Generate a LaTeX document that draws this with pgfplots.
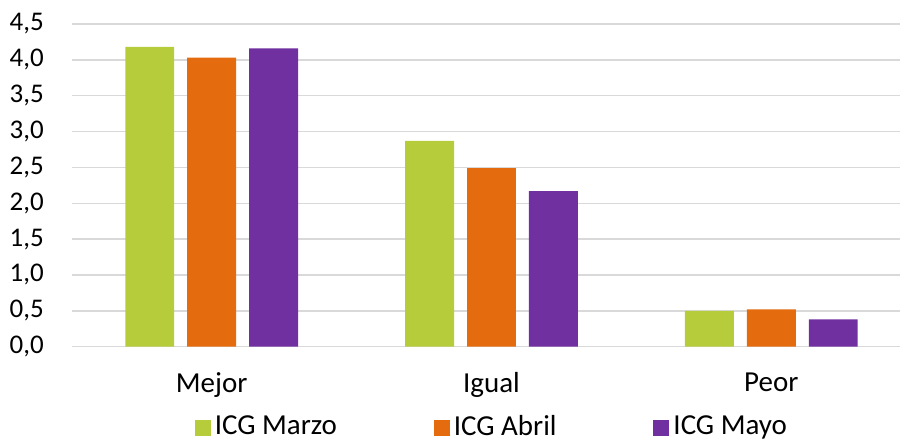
\documentclass[border=0pt]{standalone}
\usepackage{pgfplots}
\pgfplotsset{compat=1.18}
\usepackage{fontspec}
\setmainfont{Carlito}

\definecolor{verde}{HTML}{B6CC3A}
\definecolor{naranja}{HTML}{E46C0F}
\definecolor{morado}{HTML}{7030A0}
\definecolor{rejilla}{HTML}{D9D9D9}

\begin{document}
\begin{tikzpicture}
\fontsize{14.5}{17}\selectfont
\begin{axis}[
    name=ax,
    scale only axis,
    width=414.5pt, height=161.5pt,
    ybar=6.5pt, bar width=24.5pt,
    xmin=-0.5, xmax=2.46,
    ymin=0, ymax=4.5,
    xtick={0,1,2},
    xticklabels={Mejor,Igual,Peor},
    ytick={0,0.5,...,4.5},
    ymajorgrids,
    grid style={rejilla, line width=0.75pt},
    axis line style={draw=none},
    major tick length=0pt,
    tick style={draw=none},
    /pgf/number format/assume math mode=true,
    yticklabel={\pgfmathprintnumber[fixed,fixed zerofill,precision=1,use comma]{\tick}},
    yticklabel style={anchor=east, xshift=-9pt, font=\fontsize{13.5}{16}\selectfont},
    xticklabel style={yshift=-8pt, font=\fontsize{14.5}{17}\selectfont},
    legend columns=3,
    legend style={at={(axis description cs:0.5,0)}, anchor=center,
        xshift=3.5pt, yshift=-40.5pt, draw=none,
        font=\fontsize{14.5}{17}\selectfont,
        /tikz/every even column/.append style={column sep=46.5pt}},
    legend image code/.code={\fill[#1] (0pt,-4pt) rectangle (8pt,4pt);},
]
\addplot[fill=verde, draw=none] coordinates {(0,4.18) (1,2.87) (2,0.50)};
\addplot[fill=naranja, draw=none] coordinates {(0,4.03) (1,2.49) (2,0.52)};
\addplot[fill=morado, draw=none] coordinates {(0,4.16) (1,2.17) (2,0.38)};
\legend{ICG Marzo, ICG Abril, ICG Mayo}
\end{axis}
\path ([xshift=-35.5pt,yshift=-44pt]ax.south west) rectangle ([xshift=1pt,yshift=12pt]ax.north east);
\end{tikzpicture}
\end{document}
